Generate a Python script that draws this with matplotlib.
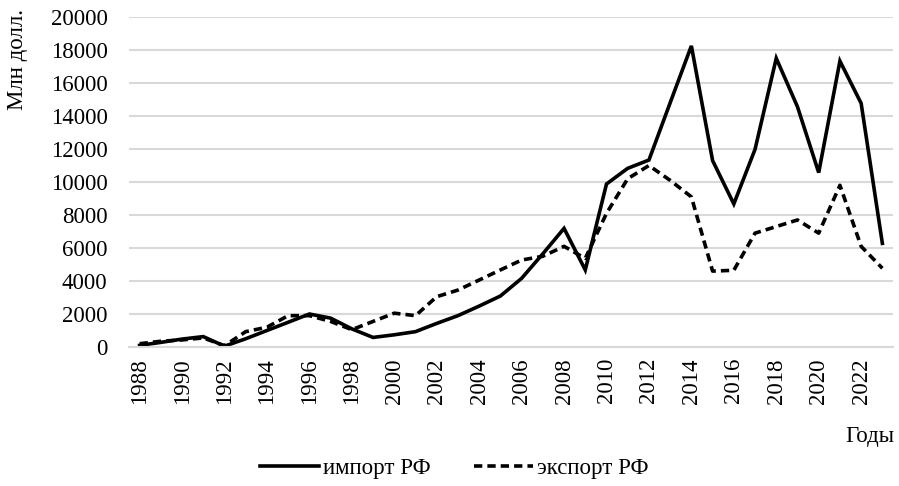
import matplotlib
matplotlib.use('Agg')
import matplotlib.pyplot as plt
import numpy as np

plt.rcParams['font.family'] = ['Liberation Serif', 'DejaVu Serif']

# data
years = list(range(1988, 2024))
imports = [100, 280, 480, 630, 50, 500, 1000, 1500, 2000, 1750, 1100, 580,
           740, 930, 1430, 1900, 2480, 3090, 4160, 5650, 7190, 4670, 9880,
           10830, 11330, 14800, 18250, 11300, 8670, 11980, 17500, 14560,
           10570, 17330, 14770, 6280]
exports = [200, 350, 430, 550, 80, 930, 1200, 1900, 1900, 1550, 1050, 1550,
           2050, 1900, 3050, 3450, 4060, 4670, 5270, 5500, 6100, 5370, 8100,
           10200, 11000, 10100, 9100, 4600, 4650, 6900, 7300, 7700, 6900,
           9800, 6100, 4770]
yticks = list(range(0, 20001, 2000))
xticks = list(range(1988, 2023, 2))

fs = 16.5
grid_col = '#d9d9d9'

fig = plt.figure(figsize=(8.99, 4.86), dpi=100)
ax = fig.add_axes([0.1435, 0.286, 0.8498, 0.679])

ax.plot(years, imports, color='black', lw=2.6, label='импорт РФ',
        solid_joinstyle='miter')
ax.plot(years, exports, color='black', lw=2.6, dashes=(2.3, 1.4),
        label='экспорт РФ', dash_capstyle='butt')

ax.set_xlim(1987.5, 2023.5)
ax.set_ylim(0, 20000)
ax.set_yticks(yticks)
ax.set_xticks(xticks)
ax.set_xticklabels([str(x) for x in xticks], rotation=90)
ax.tick_params(axis='both', length=0, labelsize=fs, colors='black')
ax.tick_params(axis='y', pad=15.5)
ax.tick_params(axis='x', pad=8)

ax.grid(axis='y', color=grid_col, lw=1.5)
ax.set_axisbelow(True)
for side in ['top', 'right', 'left']:
    ax.spines[side].set_visible(False)
ax.spines['bottom'].set_color(grid_col)
ax.spines['bottom'].set_linewidth(1.5)

fig.text(0.02, 0.877, 'Млн долл.', rotation=90, ha='center', va='center',
         fontsize=fs)
fig.text(0.995, 0.101, 'Годы', ha='right', va='center', fontsize=fs)

fig.legend(loc='center', bbox_to_anchor=(0.505, 0.037), ncol=2, frameon=False,
           fontsize=fs, handlelength=2.6, columnspacing=1.9, handletextpad=0.15)

fig.savefig('out.png', dpi=100)
